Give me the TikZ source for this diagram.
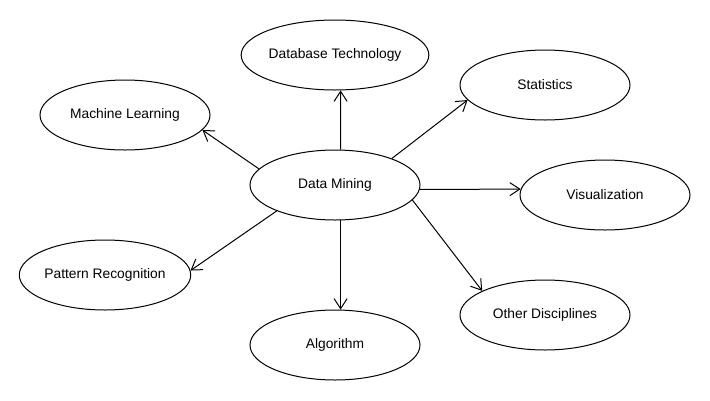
\documentclass[tikz,border=0pt]{standalone}
\usepackage{fontspec}
\setmainfont{Liberation Sans}
\usetikzlibrary{shapes.geometric,arrows.meta}
\begin{document}
\begin{tikzpicture}[x=1pt,y=-1pt]
	\tikzstyle{every node}=[font=\fontsize{13.8}{16}\selectfont]
	\tikzstyle{topic}=[draw, ellipse, line width=1pt, minimum width=170pt, minimum height=70pt, inner sep=0pt]
	\tikzstyle{link}=[line width=1pt, -{Straight Barb[length=10pt,width=13pt]}]
	
	\fill[white] (0,0) rectangle (710,400);
	\useasboundingbox (0,0) rectangle (710,400);
	
	\node[topic] (dm) at (335,185) {Data Mining};
	
	\node[topic] (db) at (335,55) {Database Technology};
	\node[topic] (ml) at (125,115) {Machine Learning};
	\node[topic] (stat) at (545,85) {Statistics};
	\node[topic] (vis) at (605,195) {Visualization};
	\node[topic] (pr) at (105,275) {Pattern Recognition};
	\node[topic] (od) at (545,315) {Other Disciplines};
	\node[topic] (alg) at (335,345) {Algorithm};
	
	% arrows out of the centre
	\draw[link] (dm.81.9) -- (db.-81.9);
	\draw[link] (dm.168) -- (ml.-11.3);
	\draw[link] (dm.25.3) -- (stat.191.6);
	\draw[link] (dm.-3.4) -- (vis.176.6);
	\draw[link] (dm.204.4) -- (pr.3.4);
	\draw[link] (dm.-11.3) -- (od.159);
	\draw[link] (dm.-81.9) -- (alg.81.9);
	
\end{tikzpicture}
\end{document}
